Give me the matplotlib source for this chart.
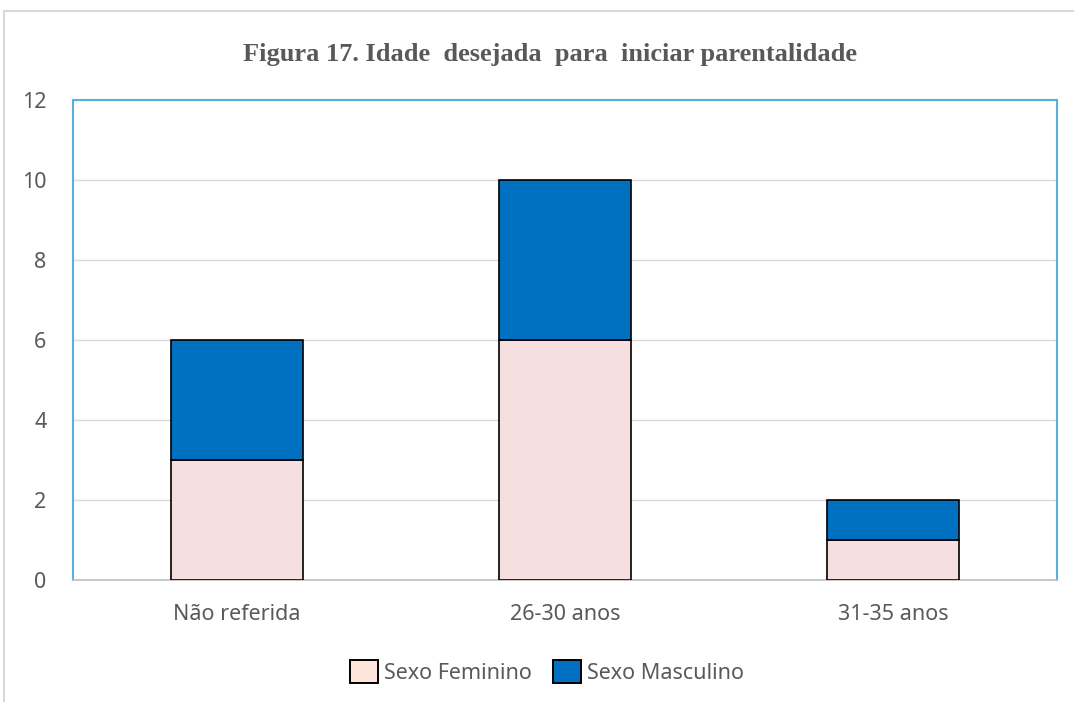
import matplotlib.pyplot as plt
from matplotlib.patches import Rectangle, Patch

categorias = ['Não referida', '26-30 anos', '31-35 anos']
feminino = [3, 6, 1]
masculino = [3, 4, 1]
yticks = [0, 2, 4, 6, 8, 10, 12]

cor_fem = '#F6DFDF'
cor_masc = '#0070C0'
cinza = '#595959'

fig = plt.figure(figsize=(10.74, 7.02), dpi=100)
ax = fig.add_axes([73 / 1074, 1 - 580 / 702, 984 / 1074, 480 / 702])

# moldura exterior do gráfico
fig.patches.append(Rectangle((4 / 1074, -0.1), 1.2, 1 - 11 / 702 + 0.1,
                             transform=fig.transFigure, fill=False,
                             edgecolor='#D9D9D9', linewidth=1.5))

x = range(len(categorias))
ax.bar(x, feminino, width=0.4, color=cor_fem, edgecolor='black', linewidth=1.2,
       label='Sexo Feminino', zorder=3)
ax.bar(x, masculino, width=0.4, bottom=feminino, color=cor_masc, edgecolor='black',
       linewidth=1.2, label='Sexo Masculino', zorder=3)

ax.set_xlim(-0.5, 2.5)
ax.set_ylim(0, 12)
ax.set_yticks(yticks)
ax.set_xticks(list(x))
ax.set_xticklabels(categorias)
ax.tick_params(axis='both', length=0, colors=cinza, labelsize=15.5)
ax.tick_params(axis='x', pad=17)
ax.tick_params(axis='y', pad=19)
for lbl in ax.get_xticklabels() + ax.get_yticklabels():
    lbl.set_fontfamily('Noto Sans')
ax.grid(axis='y', color='#D9D9D9', linewidth=1, zorder=0)

for s in ['left', 'top', 'right']:
    ax.spines[s].set_color('#5BAEE0')
    ax.spines[s].set_linewidth(1.5)
ax.spines['bottom'].set_color('#BFBFBF')
ax.spines['bottom'].set_linewidth(1.2)

fig.text(550 / 1074, 1 - 55 / 702, 'Figura 17. Idade  desejada  para  iniciar parentalidade',
         ha='center', va='center', fontsize=19, fontweight='bold',
         family='Liberation Serif', color=cinza)

handles = [Patch(facecolor='#FDE5DC', edgecolor='black', linewidth=1.4, label='Sexo Feminino'),
           Patch(facecolor=cor_masc, edgecolor='black', linewidth=1.4, label='Sexo Masculino')]
leg = fig.legend(handles=handles, loc='center', bbox_to_anchor=(547 / 1074, 1 - 672 / 702),
                 ncol=2, frameon=False, handlelength=1.3, handleheight=1.3,
                 handletextpad=0.25, columnspacing=1.0,
                 prop={'family': 'Noto Sans', 'size': 15.5})
for t in leg.get_texts():
    t.set_color(cinza)

fig.savefig('out.png', dpi=100)
